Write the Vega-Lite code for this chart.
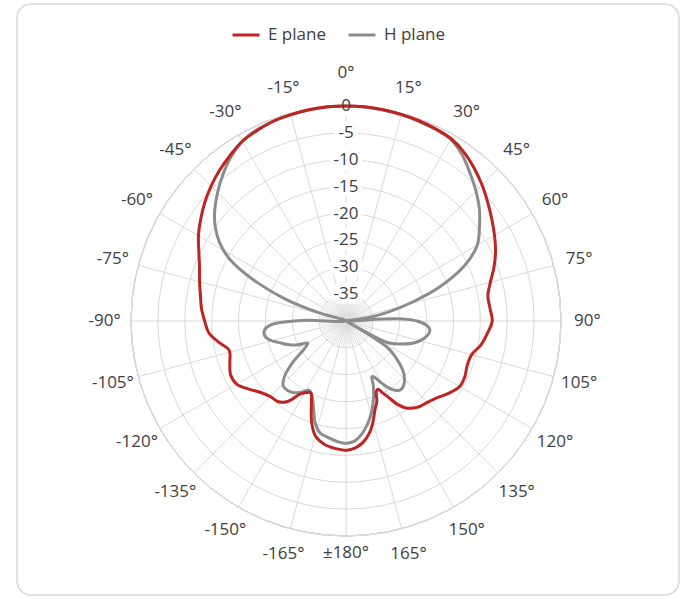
{
  "$schema": "https://vega.github.io/schema/vega-lite/v6.json",
  "width": 662,
  "height": 591,
  "autosize": {"type": "none"},
  "padding": {"left": 17, "top": 4, "right": 7, "bottom": 4},
  "background": "white",
  "config": {
    "view": {"stroke": "#d9d9d9", "strokeWidth": 1.5, "cornerRadius": 14},
    "font": "Open Sans"
  },
  "datasets": {
    "rings": [
      {"db": -35, "label": "-35"}, {"db": -30, "label": "-30"}, {"db": -25, "label": "-25"},
      {"db": -20, "label": "-20"}, {"db": -15, "label": "-15"}, {"db": -10, "label": "-10"},
      {"db": -5, "label": "-5"}, {"db": 0, "label": "0"}
    ],
    "spokes": [
      {"a": 0, "label": "0°"}, {"a": 15, "label": "15°"}, {"a": 30, "label": "30°"}, {"a": 45, "label": "45°"},
      {"a": 60, "label": "60°"}, {"a": 75, "label": "75°"}, {"a": 90, "label": "90°"}, {"a": 105, "label": "105°"},
      {"a": 120, "label": "120°"}, {"a": 135, "label": "135°"}, {"a": 150, "label": "150°"}, {"a": 165, "label": "165°"},
      {"a": 180, "label": "±180°"}, {"a": -165, "label": "-165°"}, {"a": -150, "label": "-150°"}, {"a": -135, "label": "-135°"},
      {"a": -120, "label": "-120°"}, {"a": -105, "label": "-105°"}, {"a": -90, "label": "-90°"}, {"a": -75, "label": "-75°"},
      {"a": -60, "label": "-60°"}, {"a": -45, "label": "-45°"}, {"a": -30, "label": "-30°"}, {"a": -15, "label": "-15°"}
    ],
    "minor": [
      {"a": 5}, {"a": 10}, {"a": 20}, {"a": 25}, {"a": 35}, {"a": 40}, {"a": 50}, {"a": 55}, {"a": 65}, {"a": 70},
      {"a": 80}, {"a": 85}, {"a": 95}, {"a": 100}, {"a": 110}, {"a": 115}, {"a": 125}, {"a": 130}, {"a": 140}, {"a": 145},
      {"a": 155}, {"a": 160}, {"a": 170}, {"a": 175}, {"a": 185}, {"a": 190}, {"a": 200}, {"a": 205}, {"a": 215}, {"a": 220},
      {"a": 230}, {"a": 235}, {"a": 245}, {"a": 250}, {"a": 260}, {"a": 265}, {"a": 275}, {"a": 280}, {"a": 290}, {"a": 295},
      {"a": 305}, {"a": 310}, {"a": 320}, {"a": 325}, {"a": 335}, {"a": 340}, {"a": 350}, {"a": 355}
    ],
    "pattern": [
      {"s": "E plane", "a": -180, "v": -15.9}, {"s": "E plane", "a": -175, "v": -16.2}, {"s": "E plane", "a": -170, "v": -16.7},
      {"s": "E plane", "a": -165, "v": -17.9}, {"s": "E plane", "a": -162, "v": -19.6}, {"s": "E plane", "a": -160, "v": -21.1},
      {"s": "E plane", "a": -157, "v": -23.5}, {"s": "E plane", "a": -154, "v": -25.1}, {"s": "E plane", "a": -151, "v": -24.8},
      {"s": "E plane", "a": -148, "v": -24.0}, {"s": "E plane", "a": -144, "v": -21.5}, {"s": "E plane", "a": -140, "v": -20.4},
      {"s": "E plane", "a": -135, "v": -20.1}, {"s": "E plane", "a": -130, "v": -19.3}, {"s": "E plane", "a": -125, "v": -17.9},
      {"s": "E plane", "a": -120, "v": -16.5}, {"s": "E plane", "a": -115, "v": -16.3}, {"s": "E plane", "a": -110, "v": -17.0},
      {"s": "E plane", "a": -104, "v": -17.6}, {"s": "E plane", "a": -100, "v": -16.2}, {"s": "E plane", "a": -95, "v": -14.4},
      {"s": "E plane", "a": -90, "v": -13.7}, {"s": "E plane", "a": -85, "v": -13.0}, {"s": "E plane", "a": -80, "v": -12.5},
      {"s": "E plane", "a": -75, "v": -11.8}, {"s": "E plane", "a": -70, "v": -11.0}, {"s": "E plane", "a": -65, "v": -9.8},
      {"s": "E plane", "a": -60, "v": -8.3}, {"s": "E plane", "a": -55, "v": -7.0}, {"s": "E plane", "a": -50, "v": -5.7},
      {"s": "E plane", "a": -45, "v": -4.5}, {"s": "E plane", "a": -40, "v": -3.4}, {"s": "E plane", "a": -35, "v": -2.4},
      {"s": "E plane", "a": -30, "v": -1.4}, {"s": "E plane", "a": -25, "v": -0.9}, {"s": "E plane", "a": -20, "v": -0.45},
      {"s": "E plane", "a": -15, "v": -0.25}, {"s": "E plane", "a": -10, "v": -0.1}, {"s": "E plane", "a": -5, "v": 0},
      {"s": "E plane", "a": 0, "v": 0}, {"s": "E plane", "a": 5, "v": 0}, {"s": "E plane", "a": 10, "v": -0.1},
      {"s": "E plane", "a": 15, "v": -0.2}, {"s": "E plane", "a": 20, "v": -0.35}, {"s": "E plane", "a": 25, "v": -0.55},
      {"s": "E plane", "a": 30, "v": -0.85}, {"s": "E plane", "a": 35, "v": -1.7}, {"s": "E plane", "a": 40, "v": -2.9},
      {"s": "E plane", "a": 45, "v": -4.2}, {"s": "E plane", "a": 50, "v": -5.6}, {"s": "E plane", "a": 55, "v": -6.9},
      {"s": "E plane", "a": 60, "v": -8.1}, {"s": "E plane", "a": 65, "v": -9.3}, {"s": "E plane", "a": 70, "v": -10.7},
      {"s": "E plane", "a": 75, "v": -12.2}, {"s": "E plane", "a": 80, "v": -13.2}, {"s": "E plane", "a": 85, "v": -13.1},
      {"s": "E plane", "a": 90, "v": -12.8}, {"s": "E plane", "a": 95, "v": -13.6}, {"s": "E plane", "a": 100, "v": -14.5},
      {"s": "E plane", "a": 105, "v": -15.8}, {"s": "E plane", "a": 110, "v": -16.0}, {"s": "E plane", "a": 115, "v": -15.6},
      {"s": "E plane", "a": 120, "v": -15.6}, {"s": "E plane", "a": 125, "v": -16.6}, {"s": "E plane", "a": 130, "v": -17.8},
      {"s": "E plane", "a": 135, "v": -18.6}, {"s": "E plane", "a": 140, "v": -19.1}, {"s": "E plane", "a": 145, "v": -20.2},
      {"s": "E plane", "a": 148, "v": -21.6}, {"s": "E plane", "a": 151, "v": -23.8}, {"s": "E plane", "a": 153, "v": -25.0},
      {"s": "E plane", "a": 155, "v": -26.0}, {"s": "E plane", "a": 157, "v": -25.6}, {"s": "E plane", "a": 159, "v": -24.0},
      {"s": "E plane", "a": 162, "v": -22.6}, {"s": "E plane", "a": 165, "v": -20.6}, {"s": "E plane", "a": 168, "v": -18.8},
      {"s": "E plane", "a": 172, "v": -17.2}, {"s": "E plane", "a": 176, "v": -16.3}, {"s": "E plane", "a": 180, "v": -15.9},

      {"s": "H plane", "a": -180, "v": -17.2}, {"s": "H plane", "a": -176, "v": -17.5}, {"s": "H plane", "a": -172, "v": -18.0},
      {"s": "H plane", "a": -167, "v": -18.6}, {"s": "H plane", "a": -163, "v": -20.3}, {"s": "H plane", "a": -160, "v": -22.4},
      {"s": "H plane", "a": -156, "v": -24.5}, {"s": "H plane", "a": -152, "v": -25.4}, {"s": "H plane", "a": -148, "v": -24.4},
      {"s": "H plane", "a": -144, "v": -23.5}, {"s": "H plane", "a": -140, "v": -23.1}, {"s": "H plane", "a": -136, "v": -23.2},
      {"s": "H plane", "a": -132, "v": -24.6}, {"s": "H plane", "a": -128, "v": -27.3}, {"s": "H plane", "a": -124, "v": -30.5},
      {"s": "H plane", "a": -120, "v": -31.8}, {"s": "H plane", "a": -116, "v": -29.8}, {"s": "H plane", "a": -112, "v": -28.3},
      {"s": "H plane", "a": -108, "v": -27.0}, {"s": "H plane", "a": -104, "v": -25.4}, {"s": "H plane", "a": -100, "v": -24.6},
      {"s": "H plane", "a": -96, "v": -24.8}, {"s": "H plane", "a": -93, "v": -26.0}, {"s": "H plane", "a": -91, "v": -28.5},
      {"s": "H plane", "a": -89, "v": -32.5}, {"s": "H plane", "a": -82, "v": -40}, {"s": "H plane", "a": -73, "v": -34.5},
      {"s": "H plane", "a": -70, "v": -27.8}, {"s": "H plane", "a": -66, "v": -21.1}, {"s": "H plane", "a": -62, "v": -15.5},
      {"s": "H plane", "a": -58, "v": -12.2}, {"s": "H plane", "a": -54, "v": -9.9}, {"s": "H plane", "a": -50, "v": -8.1},
      {"s": "H plane", "a": -45, "v": -6.2}, {"s": "H plane", "a": -40, "v": -4.4}, {"s": "H plane", "a": -35, "v": -2.7},
      {"s": "H plane", "a": -30, "v": -1.4}, {"s": "H plane", "a": -25, "v": -0.75}, {"s": "H plane", "a": -20, "v": -0.45},
      {"s": "H plane", "a": -15, "v": -0.3}, {"s": "H plane", "a": -10, "v": -0.15}, {"s": "H plane", "a": -5, "v": -0.05},
      {"s": "H plane", "a": 0, "v": 0}, {"s": "H plane", "a": 5, "v": -0.05}, {"s": "H plane", "a": 10, "v": -0.15},
      {"s": "H plane", "a": 15, "v": -0.3}, {"s": "H plane", "a": 20, "v": -0.45}, {"s": "H plane", "a": 25, "v": -0.65},
      {"s": "H plane", "a": 30, "v": -1.0}, {"s": "H plane", "a": 35, "v": -2.3}, {"s": "H plane", "a": 40, "v": -4.1},
      {"s": "H plane", "a": 45, "v": -5.8}, {"s": "H plane", "a": 50, "v": -7.6}, {"s": "H plane", "a": 55, "v": -9.7},
      {"s": "H plane", "a": 60, "v": -11.8}, {"s": "H plane", "a": 65, "v": -15.7}, {"s": "H plane", "a": 70, "v": -21.4},
      {"s": "H plane", "a": 74, "v": -27.0}, {"s": "H plane", "a": 78, "v": -32.0}, {"s": "H plane", "a": 81, "v": -35.5},
      {"s": "H plane", "a": 85, "v": -40}, {"s": "H plane", "a": 87, "v": -33}, {"s": "H plane", "a": 88, "v": -29.5},
      {"s": "H plane", "a": 90, "v": -26.8}, {"s": "H plane", "a": 93, "v": -25.0}, {"s": "H plane", "a": 96, "v": -24.3},
      {"s": "H plane", "a": 100, "v": -24.6}, {"s": "H plane", "a": 104, "v": -25.5}, {"s": "H plane", "a": 108, "v": -26.8},
      {"s": "H plane", "a": 113, "v": -29.0}, {"s": "H plane", "a": 117, "v": -31.0}, {"s": "H plane", "a": 119, "v": -34.5},
      {"s": "H plane", "a": 120, "v": -40}, {"s": "H plane", "a": 121, "v": -34.5}, {"s": "H plane", "a": 123, "v": -30.5},
      {"s": "H plane", "a": 127, "v": -28.1}, {"s": "H plane", "a": 131, "v": -26.0}, {"s": "H plane", "a": 135, "v": -24.6},
      {"s": "H plane", "a": 139, "v": -23.8}, {"s": "H plane", "a": 142, "v": -23.7}, {"s": "H plane", "a": 146, "v": -24.6},
      {"s": "H plane", "a": 150, "v": -26.6}, {"s": "H plane", "a": 153, "v": -28.2}, {"s": "H plane", "a": 155, "v": -28.6},
      {"s": "H plane", "a": 157, "v": -27.0}, {"s": "H plane", "a": 160, "v": -25.0}, {"s": "H plane", "a": 164, "v": -22.6},
      {"s": "H plane", "a": 168, "v": -20.5}, {"s": "H plane", "a": 172, "v": -18.8}, {"s": "H plane", "a": 176, "v": -17.6},
      {"s": "H plane", "a": 180, "v": -17.2}
    ]
  },
  "layer": [
    {
      "data": {"name": "rings"},
      "mark": {"type": "arc", "theta": 0, "theta2": 6.2832, "filled": false, "fillOpacity": 0, "stroke": "#d9d9d9", "strokeWidth": 1},
      "encoding": {
        "x": {"datum": 0, "type": "quantitative", "axis": null},
        "y": {"datum": 0, "type": "quantitative", "axis": null},
        "radius": {"field": "db", "type": "quantitative", "stack": null, "scale": {"type": "linear", "domain": [-40, 0], "range": [0, 215], "zero": false, "nice": false}}
      }
    },
    {
      "data": {"name": "spokes"},
      "transform": [
        {"calculate": "40*sin(datum.a*PI/180)", "as": "sx"},
        {"calculate": "40*cos(datum.a*PI/180)", "as": "sy"}
      ],
      "mark": {"type": "rule", "stroke": "#d9d9d9", "strokeWidth": 1},
      "encoding": {
        "x": {"field": "sx", "type": "quantitative", "scale": {"domain": [-61.21, 61.95], "nice": false, "zero": false}, "axis": null},
        "y": {"field": "sy", "type": "quantitative", "scale": {"domain": [-50.98, 58.98], "nice": false, "zero": false}, "axis": null},
        "x2": {"datum": 0},
        "y2": {"datum": 0}
      }
    },
    {
      "data": {"name": "minor"},
      "transform": [
        {"calculate": "4.8*sin(datum.a*PI/180)", "as": "sx"},
        {"calculate": "4.8*cos(datum.a*PI/180)", "as": "sy"}
      ],
      "mark": {"type": "rule", "stroke": "#dedede", "strokeWidth": 0.9},
      "encoding": {
        "x": {"field": "sx", "type": "quantitative", "scale": {"domain": [-61.21, 61.95], "nice": false, "zero": false}, "axis": null},
        "y": {"field": "sy", "type": "quantitative", "scale": {"domain": [-50.98, 58.98], "nice": false, "zero": false}, "axis": null},
        "x2": {"datum": 0},
        "y2": {"datum": 0}
      }
    },
    {
      "data": {"name": "rings"},
      "transform": [{"calculate": "datum.db + 40", "as": "ry"}, {"calculate": "0", "as": "rx"}],
      "mark": {"type": "text", "font": "Open Sans", "fontSize": 17, "fill": "white", "stroke": "white", "strokeWidth": 10, "align": "center", "baseline": "middle"},
      "encoding": {
        "x": {"field": "rx", "type": "quantitative", "scale": {"domain": [-61.21, 61.95], "nice": false, "zero": false}, "axis": null},
        "y": {"field": "ry", "type": "quantitative", "scale": {"domain": [-50.98, 58.98], "nice": false, "zero": false}, "axis": null},
        "text": {"field": "label"}
      }
    },
    {
      "data": {"name": "pattern"},
      "transform": [
        {"filter": "datum.s == 'H plane'"},
        {"calculate": "max(0, datum.v + 40)", "as": "r"},
        {"calculate": "datum.r*sin(datum.a*PI/180)", "as": "px"},
        {"calculate": "datum.r*cos(datum.a*PI/180)", "as": "py"}
      ],
      "mark": {"type": "line", "interpolate": "catmull-rom", "strokeWidth": 3, "strokeJoin": "round"},
      "encoding": {
        "x": {"field": "px", "type": "quantitative", "scale": {"domain": [-61.21, 61.95], "nice": false, "zero": false}, "axis": null},
        "y": {"field": "py", "type": "quantitative", "scale": {"domain": [-50.98, 58.98], "nice": false, "zero": false}, "axis": null},
        "order": {"field": "a", "type": "quantitative"},
        "color": {
          "field": "s", "type": "nominal",
          "scale": {"domain": ["E plane", "H plane"], "range": ["#BE2420", "#8C8C8C"]},
          "legend": {
            "orient": "none", "legendX": 214, "legendY": 16, "direction": "horizontal", "title": null,
            "symbolType": "stroke", "symbolSize": 729, "symbolStrokeWidth": 3,
            "labelFont": "Open Sans", "labelFontSize": 17, "labelColor": "#404040", "labelOffset": 7, "columnPadding": 16
          }
        }
      }
    },
    {
      "data": {"name": "pattern"},
      "transform": [
        {"filter": "datum.s == 'E plane'"},
        {"calculate": "max(0, datum.v + 40)", "as": "r"},
        {"calculate": "datum.r*sin(datum.a*PI/180)", "as": "px"},
        {"calculate": "datum.r*cos(datum.a*PI/180)", "as": "py"}
      ],
      "mark": {"type": "line", "interpolate": "catmull-rom", "strokeWidth": 3, "strokeJoin": "round"},
      "encoding": {
        "x": {"field": "px", "type": "quantitative", "scale": {"domain": [-61.21, 61.95], "nice": false, "zero": false}, "axis": null},
        "y": {"field": "py", "type": "quantitative", "scale": {"domain": [-50.98, 58.98], "nice": false, "zero": false}, "axis": null},
        "order": {"field": "a", "type": "quantitative"},
        "color": {"field": "s", "type": "nominal", "scale": {"domain": ["E plane", "H plane"], "range": ["#BE2420", "#8C8C8C"]}}
      }
    },
    {
      "data": {"name": "rings"},
      "transform": [{"calculate": "datum.db + 40", "as": "ry"}, {"calculate": "0", "as": "rx"}],
      "mark": {"type": "text", "font": "Open Sans", "fontSize": 17, "fill": "#404040", "align": "center", "baseline": "middle"},
      "encoding": {
        "x": {"field": "rx", "type": "quantitative", "scale": {"domain": [-61.21, 61.95], "nice": false, "zero": false}, "axis": null},
        "y": {"field": "ry", "type": "quantitative", "scale": {"domain": [-50.98, 58.98], "nice": false, "zero": false}, "axis": null},
        "text": {"field": "label"}
      }
    },
    {
      "data": {"name": "spokes"},
      "transform": [
        {"calculate": "datum.a == 0 ? 46.2 : (abs(datum.a) == 180 ? 43.1 : 44.9)", "as": "rl"},
        {"calculate": "datum.rl*sin(datum.a*PI/180)", "as": "lx"},
        {"calculate": "datum.rl*cos(datum.a*PI/180)", "as": "ly"}
      ],
      "mark": {"type": "text", "font": "Open Sans", "fontSize": 17, "fill": "#404040", "align": "center", "baseline": "middle"},
      "encoding": {
        "x": {"field": "lx", "type": "quantitative", "scale": {"domain": [-61.21, 61.95], "nice": false, "zero": false}, "axis": null},
        "y": {"field": "ly", "type": "quantitative", "scale": {"domain": [-50.98, 58.98], "nice": false, "zero": false}, "axis": null},
        "text": {"field": "label"}
      }
    }
  ]
}
